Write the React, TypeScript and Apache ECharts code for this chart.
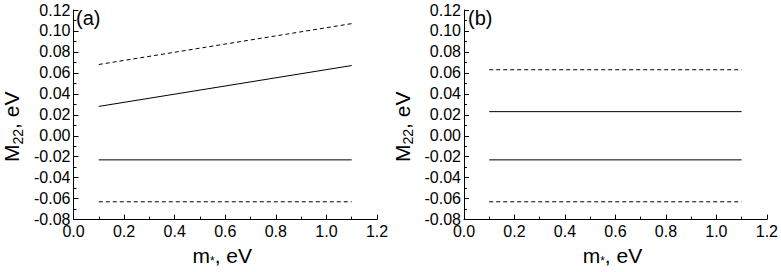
import React, { useEffect, useRef } from "react";
import * as echarts from "echarts";

const mStar = [0.1, 1.1];
const aUpperDashed = [0.068, 0.107];
const aUpperSolid = [0.028, 0.067];
const aLowerSolid = [-0.023, -0.023];
const aLowerDashed = [-0.063, -0.063];
const bUpperDashed = [0.063, 0.063];
const bUpperSolid = [0.023, 0.023];
const bLowerSolid = [-0.023, -0.023];
const bLowerDashed = [-0.063, -0.063];
const panelLabels = ["(a)", "(b)"];

const FONT = "'Liberation Sans', Arial, sans-serif";

const pairs = (ys: number[]) => mStar.map((x, i) => [x, ys[i]]);

function makeX(gridIndex: number) {
  return {
    type: "value",
    gridIndex,
    min: 0,
    max: 1.2,
    interval: 0.2,
    name: "m{sub|*}, eV",
    nameLocation: "middle",
    nameGap: 20,
    nameTextStyle: {
      fontFamily: FONT,
      fontSize: 21,
      color: "#000",
      padding: [0, 6, 0, 0],
      rich: {
        sub: { fontSize: 12, fontFamily: FONT, color: "#000", verticalAlign: "bottom", padding: [12, 0, 0, 0] },
      },
    },
    axisLine: { show: true, onZero: false, lineStyle: { color: "#000", width: 1 } },
    axisTick: { show: true, inside: true, length: 5, lineStyle: { color: "#000" } },
    minorTick: { show: true, splitNumber: 2, length: 3, lineStyle: { color: "#000" } },
    splitLine: { show: false },
    axisLabel: {
      fontFamily: FONT,
      fontSize: 16,
      color: "#000",
      margin: 4,
      formatter: (v: number) => v.toFixed(1),
    },
  };
}

function makeY(gridIndex: number) {
  return {
    type: "value",
    gridIndex,
    min: -0.08,
    max: 0.12,
    interval: 0.02,
    name: "M{sub|22}, eV",
    nameLocation: "middle",
    nameGap: 49,
    nameTextStyle: {
      fontFamily: FONT,
      fontSize: 21,
      color: "#000",
      padding: [0, 24, 0, 0],
      rich: {
        sub: { fontSize: 14, fontFamily: FONT, color: "#000", verticalAlign: "bottom", padding: [12, 0, 0, 0] },
      },
    },
    axisLine: { show: true, onZero: false, lineStyle: { color: "#000", width: 1 } },
    axisTick: { show: true, inside: true, length: 5, lineStyle: { color: "#000" } },
    minorTick: { show: true, splitNumber: 2, length: 3, lineStyle: { color: "#000" } },
    splitLine: { show: false },
    axisLabel: {
      fontFamily: FONT,
      fontSize: 16,
      color: "#000",
      margin: 3,
      formatter: (v: number) => v.toFixed(2),
    },
  };
}

function line(data: number[], idx: number, dashed: boolean) {
  return {
    type: "line",
    xAxisIndex: idx,
    yAxisIndex: idx,
    data: pairs(data),
    showSymbol: false,
    symbol: "none",
    silent: true,
    lineStyle: { color: "#000", width: 1, type: dashed ? [4, 3] : "solid" },
  };
}

export default function App() {
  const ref = useRef<HTMLDivElement>(null);
  useEffect(() => {
    if (!ref.current) return;
    const chart = echarts.init(ref.current, undefined, { renderer: "svg" });
    chart.setOption({
      animation: false,
      backgroundColor: "#fff",
      grid: [
        { left: 72, right: 404, top: 10, bottom: 46 },
        { left: 464, right: 13, top: 10, bottom: 46 },
      ],
      xAxis: [makeX(0), makeX(1)],
      yAxis: [makeY(0), makeY(1)],
      series: [
        line(aUpperDashed, 0, true),
        line(aUpperSolid, 0, false),
        line(aLowerSolid, 0, false),
        line(aLowerDashed, 0, true),
        line(bUpperDashed, 1, true),
        line(bUpperSolid, 1, false),
        line(bLowerSolid, 1, false),
        line(bLowerDashed, 1, true),
      ],
      graphic: [
        {
          type: "text",
          left: 76,
          top: 8,
          style: { text: panelLabels[0], fontFamily: FONT, fontSize: 20, fill: "#000" },
        },
        {
          type: "text",
          left: 468,
          top: 8,
          style: { text: panelLabels[1], fontFamily: FONT, fontSize: 20, fill: "#000" },
        },
      ],
    });
    return () => chart.dispose();
  }, []);
  return <div ref={ref} style={{ width: 781, height: 272, position: "absolute", left: 0, top: 0 }} />;
}
